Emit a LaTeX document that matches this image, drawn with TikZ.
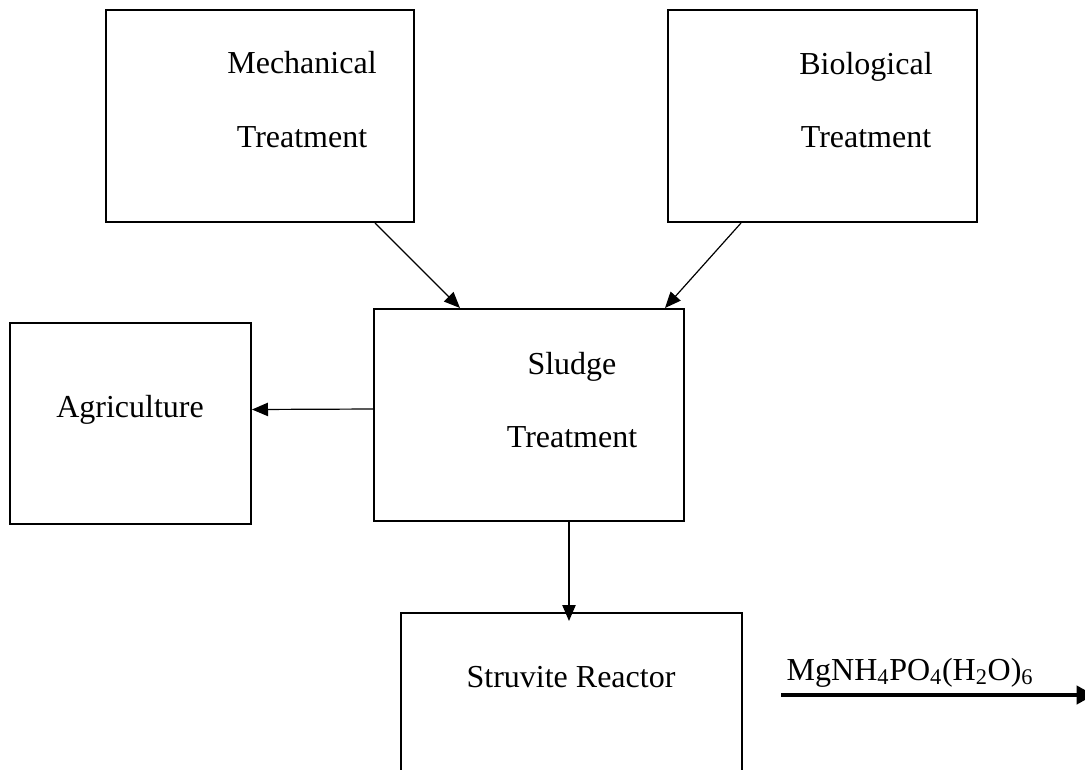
\documentclass[tikz,border=0pt]{standalone}
\usepackage{fontspec}
\setmainfont{Liberation Serif}
\usetikzlibrary{arrows.meta,calc}
\tikzset{
  box/.style={draw, line width=1.5pt, inner sep=0pt},
  txt/.style={font=\fontsize{24}{28}\selectfont, inner sep=0pt, anchor=base}
  }
\tikzstyle{link} = [draw, line width=0.9pt, -{Triangle[length=12pt,width=10pt]}]
\tikzstyle{output} = [draw, line width=3pt, -{Triangle[length=13pt,width=13.5pt]}]

\begin{document}
\begin{tikzpicture}[x=0.75pt,y=-0.75pt]
       \useasboundingbox (0,0) rectangle (1085,769);
       \clip (0,0) rectangle (1085,769);
       \foreach \pos/\w/\h/\name in {{(260,116)/231pt/159pt/mech}, {(822.5,116)/231.75pt/159pt/bio}, {(529,415)/232.5pt/159pt/sludge}, {(130.5,423.5)/180.75pt/150.75pt/agri}, {(571.5,756.5)/255.75pt/215.25pt/struvite}} {
           \node[box, minimum width=\w, minimum height=\h] (\name) at \pos {};
       }

       \node[txt] (mech1) at (302,73) {Mechanical};
       \node[txt] (mech2) at (302,147) {Treatment};
       \node[txt] (bio1) at (866,74) {Biological};
       \node[txt] (bio2) at (866,147) {Treatment};
       \node[txt] (sludge1) at (572,374) {Sludge};
       \node[txt] (sludge2) at (572,447) {Treatment};
       \node[txt] (agri1) at (130,417) {Agriculture};
       \node[txt] (struvite1) at (571,687) {Struvite Reactor};
       \node[txt] (prod) at (910,680) {MgNH\textsubscript{4}PO\textsubscript{4}(H\textsubscript{2}O)\textsubscript{6}};

       \coordinate (out) at (1094,695);

       \draw[link] ($(mech.south)+(115,0)$) -- ($(sludge.north)+(-69,0)$);
       \draw[link] ($(bio.south)+(-81.5,0)$) -- ($(sludge.north)+(136,0)$);
       \draw[link] ($(sludge.west)+(0,-6)$) -- ($(agri.east)+(0,-14)$);
       \draw[link] ($(sludge.south)+(40,0)$) -- ($(struvite.north)+(-2.5,9)$);
       \draw[output] ($(struvite.east)+(38,-61.5)$) -- (out);
\end{tikzpicture}
\end{document}
